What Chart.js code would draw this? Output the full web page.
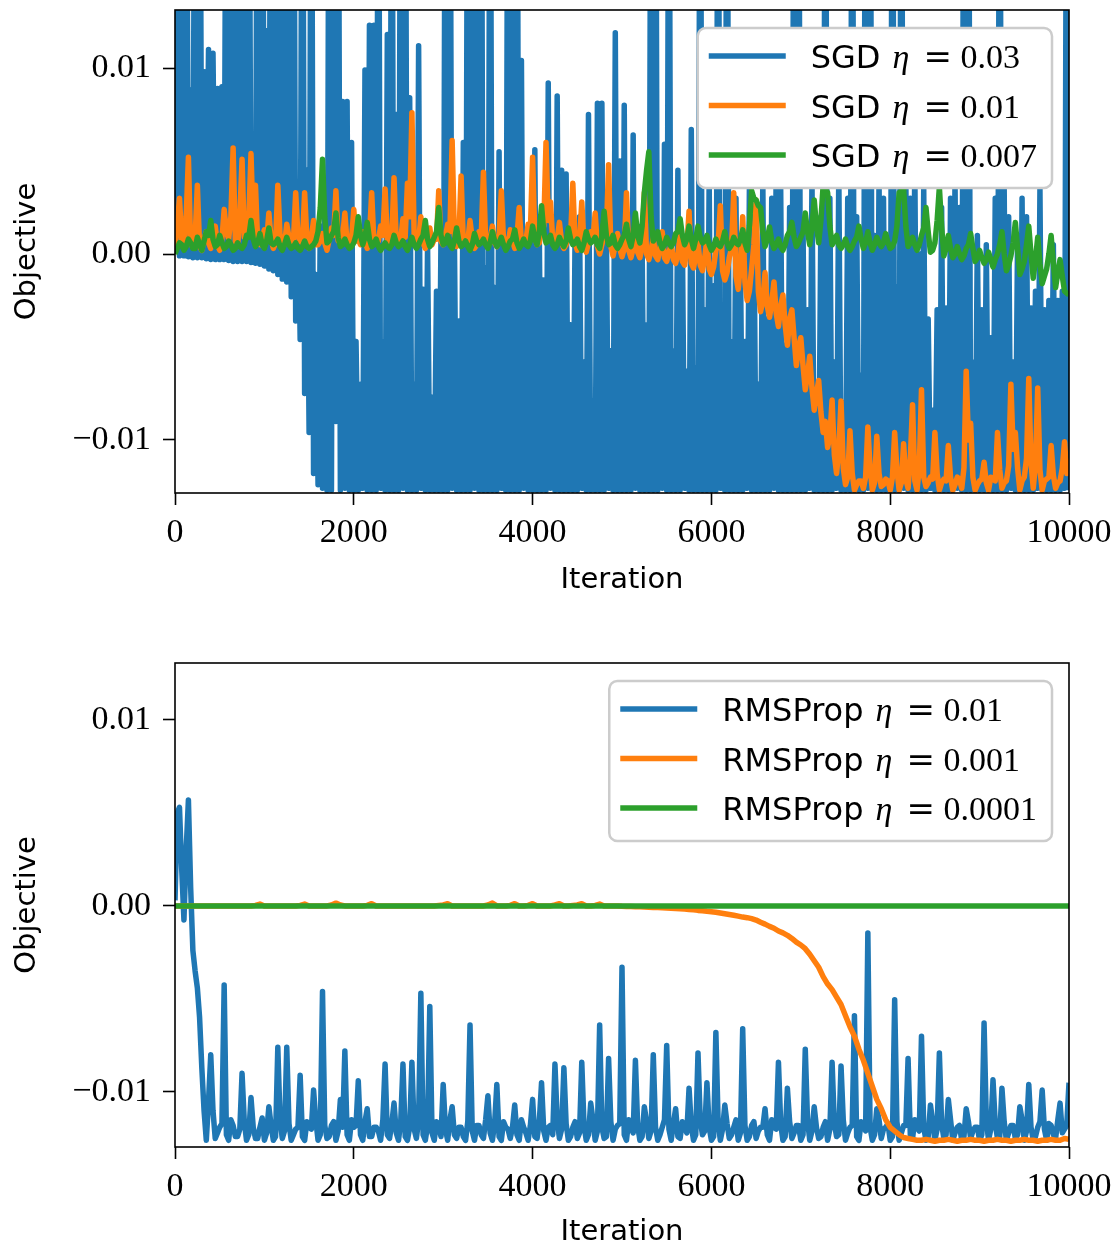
<!DOCTYPE html>
<html>
<head>
<meta charset="utf-8">
<script src="https://cdn.jsdelivr.net/npm/chart.js@4/dist/chart.umd.min.js"></script>
<style>
  html, body { margin: 0; padding: 0; background: #fff; }
  #wrap { position: relative; width: 1119px; height: 1250px; }
  canvas { position: absolute; left: 0; }
  #topChart { top: 0; }
  #bottomChart { top: 620px; }
</style>
</head>
<body>
<div id="wrap">
  <canvas id="topChart" width="1119" height="620"></canvas>
  <canvas id="bottomChart" width="1119" height="630"></canvas>
</div>
<script>
// === data (objective values in units of 1e-3) ===
const iterations = [
  0, 50, 100, 150, 200, 250, 300, 350, 400, 450,
  500, 550, 600, 650, 700, 750, 800, 850, 900, 950,
  1000, 1050, 1100, 1150, 1200, 1250, 1300, 1350, 1400, 1450,
  1500, 1550, 1600, 1650, 1700, 1750, 1800, 1850, 1900, 1950,
  2000, 2050, 2100, 2150, 2200, 2250, 2300, 2350, 2400, 2450,
  2500, 2550, 2600, 2650, 2700, 2750, 2800, 2850, 2900, 2950,
  3000, 3050, 3100, 3150, 3200, 3250, 3300, 3350, 3400, 3450,
  3500, 3550, 3600, 3650, 3700, 3750, 3800, 3850, 3900, 3950,
  4000, 4050, 4100, 4150, 4200, 4250, 4300, 4350, 4400, 4450,
  4500, 4550, 4600, 4650, 4700, 4750, 4800, 4850, 4900, 4950,
  5000, 5050, 5100, 5150, 5200, 5250, 5300, 5350, 5400, 5450,
  5500, 5550, 5600, 5650, 5700, 5750, 5800, 5850, 5900, 5950,
  6000, 6050, 6100, 6150, 6200, 6250, 6300, 6350, 6400, 6450,
  6500, 6550, 6600, 6650, 6700, 6750, 6800, 6850, 6900, 6950,
  7000, 7050, 7100, 7150, 7200, 7250, 7300, 7350, 7400, 7450,
  7500, 7550, 7600, 7650, 7700, 7750, 7800, 7850, 7900, 7950,
  8000, 8050, 8100, 8150, 8200, 8250, 8300, 8350, 8400, 8450,
  8500, 8550, 8600, 8650, 8700, 8750, 8800, 8850, 8900, 8950,
  9000, 9050, 9100, 9150, 9200, 9250, 9300, 9350, 9400, 9450,
  9500, 9550, 9600, 9650, 9700, 9750, 9800, 9850, 9900, 9950,
  10000
];

// in-between samples (25, 75, ...) used to thicken the noisy bands
const iterationsMid = [
  25, 75, 125, 175, 225, 275, 325, 375, 425, 475,
  525, 575, 625, 675, 725, 775, 825, 875, 925, 975,
  1025, 1075, 1125, 1175, 1225, 1275, 1325, 1375, 1425, 1475,
  1525, 1575, 1625, 1675, 1725, 1775, 1825, 1875, 1925, 1975,
  2025, 2075, 2125, 2175, 2225, 2275, 2325, 2375, 2425, 2475,
  2525, 2575, 2625, 2675, 2725, 2775, 2825, 2875, 2925, 2975,
  3025, 3075, 3125, 3175, 3225, 3275, 3325, 3375, 3425, 3475,
  3525, 3575, 3625, 3675, 3725, 3775, 3825, 3875, 3925, 3975,
  4025, 4075, 4125, 4175, 4225, 4275, 4325, 4375, 4425, 4475,
  4525, 4575, 4625, 4675, 4725, 4775, 4825, 4875, 4925, 4975,
  5025, 5075, 5125, 5175, 5225, 5275, 5325, 5375, 5425, 5475,
  5525, 5575, 5625, 5675, 5725, 5775, 5825, 5875, 5925, 5975,
  6025, 6075, 6125, 6175, 6225, 6275, 6325, 6375, 6425, 6475,
  6525, 6575, 6625, 6675, 6725, 6775, 6825, 6875, 6925, 6975,
  7025, 7075, 7125, 7175, 7225, 7275, 7325, 7375, 7425, 7475,
  7525, 7575, 7625, 7675, 7725, 7775, 7825, 7875, 7925, 7975,
  8025, 8075, 8125, 8175, 8225, 8275, 8325, 8375, 8425, 8475,
  8525, 8575, 8625, 8675, 8725, 8775, 8825, 8875, 8925, 8975,
  9025, 9075, 9125, 9175, 9225, 9275, 9325, 9375, 9425, 9475,
  9525, 9575, 9625, 9675, 9725, 9775, 9825, 9875, 9925, 9975
];

// finer grid for the fast-oscillating SGD eta = 0.03 run
const iterationsFine = [
  0, 25, 50, 75, 100, 125, 150, 175, 200, 225, 250, 275, 300, 325, 350, 375, 400, 425, 450, 475,
  500, 525, 550, 575, 600, 625, 650, 675, 700, 725, 750, 775, 800, 825, 850, 875, 900, 925, 950, 975,
  1000, 1025, 1050, 1075, 1100, 1125, 1150, 1175, 1200, 1225, 1250, 1275, 1300, 1325, 1350, 1375, 1400, 1425, 1450, 1475,
  1500, 1525, 1550, 1575, 1600, 1625, 1650, 1675, 1700, 1725, 1750, 1775, 1800, 1825, 1850, 1875, 1900, 1925, 1950, 1975,
  2000, 2025, 2050, 2075, 2100, 2125, 2150, 2175, 2200, 2225, 2250, 2275, 2300, 2325, 2350, 2375, 2400, 2425, 2450, 2475,
  2500, 2525, 2550, 2575, 2600, 2625, 2650, 2675, 2700, 2725, 2750, 2775, 2800, 2825, 2850, 2875, 2900, 2925, 2950, 2975,
  3000, 3025, 3050, 3075, 3100, 3125, 3150, 3175, 3200, 3225, 3250, 3275, 3300, 3325, 3350, 3375, 3400, 3425, 3450, 3475,
  3500, 3525, 3550, 3575, 3600, 3625, 3650, 3675, 3700, 3725, 3750, 3775, 3800, 3825, 3850, 3875, 3900, 3925, 3950, 3975,
  4000, 4025, 4050, 4075, 4100, 4125, 4150, 4175, 4200, 4225, 4250, 4275, 4300, 4325, 4350, 4375, 4400, 4425, 4450, 4475,
  4500, 4525, 4550, 4575, 4600, 4625, 4650, 4675, 4700, 4725, 4750, 4775, 4800, 4825, 4850, 4875, 4900, 4925, 4950, 4975,
  5000, 5025, 5050, 5075, 5100, 5125, 5150, 5175, 5200, 5225, 5250, 5275, 5300, 5325, 5350, 5375, 5400, 5425, 5450, 5475,
  5500, 5525, 5550, 5575, 5600, 5625, 5650, 5675, 5700, 5725, 5750, 5775, 5800, 5825, 5850, 5875, 5900, 5925, 5950, 5975,
  6000, 6025, 6050, 6075, 6100, 6125, 6150, 6175, 6200, 6225, 6250, 6275, 6300, 6325, 6350, 6375, 6400, 6425, 6450, 6475,
  6500, 6525, 6550, 6575, 6600, 6625, 6650, 6675, 6700, 6725, 6750, 6775, 6800, 6825, 6850, 6875, 6900, 6925, 6950, 6975,
  7000, 7025, 7050, 7075, 7100, 7125, 7150, 7175, 7200, 7225, 7250, 7275, 7300, 7325, 7350, 7375, 7400, 7425, 7450, 7475,
  7500, 7525, 7550, 7575, 7600, 7625, 7650, 7675, 7700, 7725, 7750, 7775, 7800, 7825, 7850, 7875, 7900, 7925, 7950, 7975,
  8000, 8025, 8050, 8075, 8100, 8125, 8150, 8175, 8200, 8225, 8250, 8275, 8300, 8325, 8350, 8375, 8400, 8425, 8450, 8475,
  8500, 8525, 8550, 8575, 8600, 8625, 8650, 8675, 8700, 8725, 8750, 8775, 8800, 8825, 8850, 8875, 8900, 8925, 8950, 8975,
  9000, 9025, 9050, 9075, 9100, 9125, 9150, 9175, 9200, 9225, 9250, 9275, 9300, 9325, 9350, 9375, 9400, 9425, 9450, 9475,
  9500, 9525, 9550, 9575, 9600, 9625, 9650, 9675, 9700, 9725, 9750, 9775, 9800, 9825, 9850, 9875, 9900, 9925, 9950, 9975,
  10000
];

// SGD eta = 0.03 on iterationsFine (values of 30 are off the top of the axis)
const sgd003 = [
  0.0, 30, -0.1, 30, -0.1, 30, -0.15, 8.8, -0.2, 30, -0.2, 30, -0.2, 9.8, -0.25, 11.0, -0.3, 10.8, -0.3, 8.9,
  -0.3, 9.0, -0.3, 30, -0.35, 30, -0.4, 30, -0.4, 30, -0.4, 30, -0.4, 30, -0.45, 5.5, -0.5, 30, -0.55, 30,
  -0.65, 12.0, -0.8, 30, -0.9, 30, -1.1, 30, -1.35, 30, -1.5, 30, -2.3, 30, -3.6, 3.9, -4.6, 30, -7.5, 4.5,
  -9.6, 30, -11.8, -1.1, -12.4, 1.5, -12.6, 3.0, -12.7, 30, -12.7, 30, -9.0, 30, -12.7, 8.2, -12.6, 8.2, -12.7, 6.0,
  -12.7, -4.7, -12.7, -7.0, -12.6, 9.9, -12.7, 12.3, -12.7, 12.3, -12.7, 30, -12.6, -4.7, -12.7, 11.8, -12.7, 30, -12.7, 7.5,
  -12.7, 30, -12.6, 30, -12.7, 8.4, -12.7, -7.0, -12.7, 11.2, -12.6, -1.9, -12.7, 0.5, -12.7, -7.7, -12.7, -2.0, -12.7, 0.8,
  -12.7, 30, -12.7, 30, -12.6, 1.0, -12.7, -3.6, -12.7, 6.0, -12.7, 30, -12.7, 30, -12.6, 30, -12.7, 30, -12.7, -0.75,
  -12.7, 30, -12.7, -1.8, -12.7, 5.5, -12.6, 0.8, -12.7, 30, -12.7, 30, -12.7, 30, -12.7, 10.4, -12.6, 1.0, -12.7, 1.5,
  -12.7, 5.6, -12.7, 1.0, -12.7, -1.4, -12.7, 9.2, -12.6, 2.0, -12.7, 8.5, -12.7, 4.5, -12.7, 4.3, -12.7, -3.8, -12.7, 1.0,
  -12.7, 2.0, -12.6, -5.8, -12.7, 7.5, -12.7, -7.9, -12.7, 8.1, -12.7, 8.1, -12.7, 1.5, -12.6, -5.2, -12.7, 11.9, -12.7, 5.0,
  -12.7, 8.0, -12.7, 2.0, -12.7, 6.4, -12.6, 1.5, -12.7, 0.5, -12.7, -3.8, -12.7, 30, -12.7, 30, -12.7, 1.0, -12.6, 5.9,
  -12.7, 30, -12.7, -5.2, -12.7, 4.5, -12.7, 1.0, -12.6, -6.3, -12.7, 6.7, -12.7, -6.1, -12.7, 30, -12.7, -3.0, -12.7, 4.0,
  -12.7, -1.7, -12.7, 30, -12.6, -5.5, -12.7, 30, -12.7, -4.7, -12.7, 3.0, -12.7, -0.5, -12.7, -4.7, -12.6, 3.5, -12.7, 2.0,
  -12.7, -7.0, -12.7, 4.0, -12.7, -3.5, -12.7, 3.0, -12.6, 5.0, -12.7, 3.5, -12.7, -4.9, -12.7, 2.5, -12.7, 30, -12.7, 30,
  -12.7, 1.5, -12.7, -3.0, -12.6, 4.0, -12.7, -7.5, -12.7, 2.0, -12.7, 30, -12.7, 3.0, -12.7, -5.8, -12.6, 4.5, -12.7, -8.0,
  -12.7, 3.0, -12.7, 30, -12.7, 2.0, -12.7, -6.5, -12.7, 30, -12.6, 30, -12.7, 1.0, -12.7, 4.0, -12.7, 3.0, -12.7, 0.5,
  -12.7, 30, -12.7, -1.8, -12.7, 30, -12.6, 4.0, -12.7, 3.0, -12.7, 5.0, -12.7, 0.0, -12.7, 3.5, -12.7, -3.5, -12.6, -8.4,
  -12.7, -3.0, -12.7, 2.5, -12.7, -2.9, -12.7, 3.0, -12.7, 4.0, -12.6, 2.5, -12.7, 30, -12.7, 30, -12.7, -5.8, -12.7, 1.0,
  -12.7, -3.0, -12.7, 0.5, -12.6, -4.5, -12.7, 3.0, -12.7, 30, -12.7, 3.5, -12.7, 2.0, -12.6, -5.8, -12.7, 1.0, -12.7, 3.0,
  -12.7, 2.0, -12.7, -2.9, -12.7, -2.0, -12.6, 3.5, -12.7, -3.0, -12.7, -2.5, -12.7, 0.5, -12.7, -2.5, -12.7, -2.0, -12.6, 30,
  -12.7
];

// SGD eta = 0.01 (on iterations, plus in-between samples on iterationsMid)
const sgd001 = [
  0.3, 3.0, 0.4, 5.2, 0.6, 3.7, 0.2, 1.2, 0.3, 1.5,
  0.2, 2.4, 0.8, 5.7, 0.4, 5.1, 1.0, 5.4, 3.7, 0.5,
  1.3, 2.2, 0.3, 3.7, 0.9, 1.6, 0.4, 3.3, 0.7, 3.3,
  0.3, 1.8, 0.5, 1.1, 0.2, 1.4, 3.4, 0.6, 2.2, 0.4,
  2.4, 0.8, 1.2, 0.3, 3.3, 0.9, 1.5, 3.5, 0.5, 4.1,
  0.7, 1.9, 3.8, 7.6, 0.6, 2.0, 0.3, 1.4, 0.8, 3.4,
  0.5, 1.6, 6.1, 0.4, 4.2, 0.9, 1.8, 0.3, 1.2, 4.4,
  0.6, 1.5, 0.4, 3.4, 0.8, 1.3, 0.3, 2.5, 0.6, 1.6,
  5.2, 0.5, 1.4, 6.0, 2.8, 0.4, 1.7, 0.3, 1.0, 3.8,
  0.2, 2.8, 0.1, 1.2, 2.2, 0.0, 1.0, 4.8, -0.1, 1.1,
  -0.15, 3.3, -0.2, 0.8, -0.2, 3.3, -0.3, 0.9, -0.3, 1.2,
  -0.4, 0.5, -0.5, 1.0, -0.6, 2.3, -0.75, 0.6, -0.9, 0.8,
  -1.1, 0.2, 2.6, -1.4, -0.2, 3.3, -1.9, 2.0, -2.5, -0.8,
  2.9, -3.1, -1.0, -3.4, -1.5, -3.9, -2.2, -4.9, -3.0, -6.0,
  -4.5, -7.3, -5.5, -8.4, -6.8, -9.6, -10.4, -7.85, -11.8, -7.9,
  -12.4, -9.5, -12.7, -12.2, -12.6, -9.3, -12.7, -9.8, -12.5, -12.1,
  -12.7, -9.6, -12.7, -10.2, -12.6, -8.1, -12.7, -7.3, -12.5, -12.0,
  -9.6, -12.7, -12.1, -10.3, -12.7, -12.0, -12.6, -6.3, -9.1, -12.7,
  -12.2, -11.2, -12.7, -12.1, -9.6, -12.6, -12.2, -7.0, -9.6, -12.7,
  -12.0, -6.7, -12.6, -7.2, -12.7, -12.1, -10.3, -12.6, -12.2, -10.1,
  -11.0
];
const sgd001Mid = [
  1.5, 0.8, 2.0, 0.5, 0.9, 0.4, 0.8, 0.6, 0.9, 0.5,
  0.8, 1.2, 2.0, 0.7, 2.0, 0.9, 1.8, 1.5, 0.6, 0.9,
  0.7, 0.8, 0.6, 1.0, 0.5, 0.9, 0.7, 1.0, 0.6, 0.8,
  0.9, 0.5, 0.7, 0.6, 0.8, 1.0, 0.7, 0.9, 0.6, 0.8,
  0.7, 0.5, 0.8, 0.9, 0.6, 0.7, 1.0, 0.8, 0.9, 0.6,
  0.8, 0.9, 2.0, 1.0, 0.7, 0.6, 0.9, 0.5, 0.8, 0.7,
  0.9, 1.2, 1.0, 0.8, 0.6, 0.7, 0.8, 0.5, 0.9, 0.7,
  0.8, 0.6, 0.9, 0.7, 0.5, 0.8, 0.9, 0.6, 0.7, 1.2,
  0.9, 0.6, 1.5, 1.8, 0.7, 0.8, 0.6, 0.5, 0.9, 0.6,
  0.7, 0.5, 0.6, 0.8, 0.4, 0.5, 1.2, 0.4, 0.5, 0.3,
  0.3, 0.2, 0.3, 0.1, 0.4, 0.0, 0.2, -0.1, 0.3, -0.2,
  0.1, -0.3, 0.0, -0.4, 0.3, -0.5, -0.1, -0.6, -0.2, -0.8,
  -0.7, 0.5, -0.9, -1.0, 0.3, -1.2, -0.5, -1.5, -2.0, 0.5,
  -2.0, -2.5, -2.8, -2.6, -3.2, -2.8, -3.8, -3.5, -4.5, -5.0,
  -6.0, -6.5, -7.2, -7.5, -8.5, -9.0, -9.8, -10.8, -10.5, -11.5,
  -12.0, -11.8, -12.4, -12.2, -12.0, -11.5, -12.3, -11.8, -12.4, -12.2,
  -12.0, -11.6, -12.3, -12.1, -11.0, -12.2, -11.5, -12.0, -12.3, -12.1,
  -11.8, -12.3, -12.2, -12.0, -12.4, -12.1, -11.5, -10.0, -12.0, -12.4,
  -12.1, -12.3, -12.0, -12.2, -11.6, -12.3, -11.4, -10.5, -11.5, -12.2,
  -11.0, -11.2, -11.3, -11.6, -12.2, -12.0, -11.9, -12.3, -11.5, -11.8
];

// SGD eta = 0.007
const sgd0007 = [
  0.0, 0.6, 0.2, 0.8, 0.3, 0.9, 0.2, 1.2, 1.8, 0.4,
  1.0, 0.3, 0.7, 0.2, 0.6, 0.3, 1.0, 1.8, 0.4, 1.1,
  0.3, 1.4, 0.5, 0.8, 0.2, 0.9, 0.3, 0.6, 0.2, 0.7,
  0.3, 0.5, 1.2, 5.1, 0.6, 1.0, 2.2, 0.4, 0.8, 0.3,
  0.6, 2.0, 0.5, 1.7, 0.4, 0.8, 0.2, 0.6, 0.3, 1.0,
  0.4, 0.7, 0.2, 0.9, 0.3, 0.8, 1.8, 0.4, 0.9, 2.5,
  0.5, 1.0, 0.3, 1.4, 0.4, 0.7, 0.2, 1.1, 0.5, 0.8,
  0.3, 1.2, 0.4, 0.9, 0.2, 0.7, 1.3, 0.3, 0.8, 0.4,
  1.5, 0.5, 2.6, 0.6, 1.0, 0.3, 0.9, 0.4, 1.4, 0.5,
  0.8, 0.2, 1.2, 0.6, 0.9, 0.3, 2.3, 0.5, 1.0, 0.3,
  0.8, 1.6, 0.4, 2.2, 0.6, 3.3, 5.5, 0.7, 1.2, 0.3,
  0.9, 0.4, 1.1, 1.9, 0.5, 1.5, 0.3, 1.5, 0.6, 1.0,
  0.2, 0.8, 0.4, 1.2, 0.3, 0.9, 0.5, 1.3, 0.2, 3.4,
  2.9, 2.5, 0.4, 1.45, 0.3, 0.8, 0.2, 1.0, 1.7, 0.4,
  0.9, 2.2, 0.5, 2.9, 0.6, 3.7, 3.3, 0.5, 1.0, 0.3,
  0.8, 0.2, 0.7, 1.5, 0.3, 1.2, 0.2, 0.9, 0.4, 1.1,
  0.3, 0.7, 3.3, 3.5, 0.4, 0.9, 0.2, 1.0, 2.5, 0.1,
  0.6, 3.6, -0.1, 1.0, -0.2, 0.4, -0.3, 0.3, 1.1, -0.4,
  0.2, -0.5, 0.1, -0.7, 0.0, 1.2, -0.9, -0.1, 1.7, -1.1,
  -0.4, 1.5, -1.3, 0.9, -1.6, -0.8, 1.0, -1.8, -0.3, -2.0,
  -2.2
];
const sgd0007Mid = [
  0.3, 0.5, 0.4, 0.6, 0.3, 0.5, 0.7, 1.0, 0.8, 0.5,
  0.6, 0.4, 0.5, 0.3, 0.4, 0.5, 0.9, 0.8, 0.6, 0.5,
  0.7, 0.6, 0.6, 0.4, 0.5, 0.5, 0.4, 0.3, 0.4, 0.4,
  0.4, 0.7, 2.5, 2.0, 0.7, 1.2, 0.9, 0.5, 0.5, 0.4,
  1.0, 1.0, 0.9, 0.8, 0.5, 0.4, 0.4, 0.4, 0.5, 0.6,
  0.5, 0.4, 0.5, 0.5, 0.5, 1.0, 0.8, 0.6, 1.2, 1.0,
  0.6, 0.5, 0.7, 0.7, 0.5, 0.4, 0.5, 0.7, 0.6, 0.5,
  0.6, 0.7, 0.6, 0.5, 0.4, 0.8, 0.6, 0.5, 0.5, 0.7,
  0.8, 1.2, 1.2, 0.7, 0.5, 0.5, 0.6, 0.7, 0.8, 0.6,
  0.4, 0.6, 0.8, 0.7, 0.5, 1.0, 1.0, 0.6, 0.5, 0.5,
  1.0, 0.8, 1.0, 1.0, 1.5, 4.5, 2.0, 0.9, 0.6, 0.5,
  0.6, 0.6, 1.2, 1.0, 0.8, 0.8, 0.8, 0.9, 0.7, 0.5,
  0.4, 0.5, 0.7, 0.6, 0.5, 0.6, 0.8, 0.6, 1.5, 3.0,
  2.6, 1.2, 0.8, 0.7, 0.5, 0.4, 0.5, 1.2, 0.9, 0.6,
  1.2, 1.2, 1.5, 1.5, 1.8, 3.5, 1.5, 0.7, 0.5, 0.5,
  0.4, 0.4, 0.9, 0.8, 0.6, 0.6, 0.5, 0.6, 0.6, 0.6,
  0.4, 1.5, 3.4, 1.5, 0.6, 0.5, 0.5, 1.4, 1.2, 0.2,
  1.8, 1.5, 0.3, 0.3, 0.0, 0.0, -0.1, 0.5, 0.3, -0.2,
  -0.2, -0.3, -0.3, -0.3, 0.5, 0.0, -0.6, 0.6, 0.3, -0.8,
  0.5, 0.0, -0.3, -0.5, -1.2, 0.0, -0.5, -1.0, -1.2, -2.1
];

// RMSProp eta = 0.01
const rms001 = [
  0.3, 5.3, -0.75, 5.7, -2.4, -4.4, -8.7, -12.6, -8.0, -12.5,
  -11.9, -4.25, -12.6, -11.8, -12.4, -9.0, -12.6, -10.3, -12.5, -11.9,
  -12.6, -10.8, -12.6, -7.6, -12.5, -7.6, -12.6, -12.0, -9.1, -12.6,
  -11.9, -9.9, -12.6, -4.6, -12.5, -11.8, -12.6, -10.4, -7.8, -12.6,
  -11.9, -9.4, -12.6, -10.9, -12.4, -11.9, -12.6, -8.5, -12.5, -10.6,
  -12.6, -8.5, -12.6, -8.4, -12.5, -4.7, -12.6, -5.4, -12.6, -11.8,
  -9.6, -12.6, -10.8, -12.5, -11.9, -12.6, -6.4, -12.6, -11.8, -12.5,
  -10.2, -12.6, -9.6, -12.6, -11.9, -12.5, -10.7, -12.6, -11.9, -12.6,
  -10.4, -12.5, -9.5, -12.6, -11.8, -8.5, -12.5, -8.7, -12.6, -11.9,
  -12.5, -8.4, -12.6, -10.6, -12.6, -6.4, -12.5, -8.2, -12.6, -11.8,
  -3.3, -12.6, -11.9, -8.3, -12.6, -10.8, -12.5, -8.0, -12.6, -11.9,
  -7.5, -12.6, -10.9, -12.5, -11.9, -9.8, -12.6, -7.9, -12.3, -9.5,
  -12.6, -6.8, -12.6, -10.7, -12.5, -11.9, -12.6, -6.6, -12.6, -11.8,
  -12.5, -11.9, -10.9, -12.6, -11.9, -8.4, -12.6, -9.8, -12.5, -11.8,
  -12.6, -7.7, -12.6, -10.8, -12.5, -11.9, -12.6, -8.4, -12.4, -8.6,
  -12.6, -11.9, -5.9, -12.6, -11.8, -1.45, -12.6, -10.9, -12.5, -11.9,
  -12.6, -5.05, -12.6, -11.8, -8.2, -12.5, -11.9, -7.0, -12.6, -10.7,
  -12.6, -7.9, -12.5, -10.4, -12.6, -11.9, -12.6, -10.9, -12.5, -11.9,
  -12.6, -6.3, -12.6, -9.35, -12.5, -9.8, -12.6, -11.8, -12.5, -10.8,
  -12.6, -9.6, -12.6, -11.9, -9.9, -12.6, -11.8, -12.5, -10.6, -12.0,
  -9.5
];
const rms001Mid = [
  5.0, 2.0, 3.0, 1.0, -3.5, -6.0, -11.0, -10.5, -11.0, -12.2,
  -11.7, -12.3, -11.5, -12.4, -12.0, -11.6, -12.3, -11.9, -12.5, -11.4,
  -12.2, -11.8, -12.4, -11.5, -12.1, -11.7, -12.3, -11.9, -12.4, -11.6,
  -12.0, -11.5, -12.3, -11.8, -12.4, -11.6, -12.1, -11.9, -12.3, -11.5,
  -11.8, -12.3, -11.6, -12.4, -11.9, -12.1, -11.5, -12.3, -11.7, -12.2,
  -11.6, -12.4, -11.9, -12.0, -11.5, -12.3, -11.8, -12.2, -11.6, -12.4,
  -12.0, -11.5, -12.3, -11.9, -12.4, -11.6, -12.1, -11.8, -12.3, -11.5,
  -12.2, -11.7, -12.4, -11.6, -12.0, -11.9, -12.3, -11.5, -12.2, -11.8,
  -12.4, -11.6, -12.1, -11.9, -12.3, -11.5, -12.0, -11.7, -12.4, -11.6,
  -12.2, -11.8, -12.3, -11.5, -12.1, -11.9, -12.4, -11.6, -12.0, -11.7,
  -12.3, -11.5, -12.2, -11.8, -12.4, -11.6, -12.1, -11.9, -12.3, -11.5,
  -12.0, -11.7, -12.4, -11.6, -12.2, -11.8, -12.3, -11.5, -12.1, -11.9,
  -12.4, -11.6, -12.0, -11.7, -12.3, -11.5, -12.2, -11.8, -12.4, -11.6,
  -12.1, -11.9, -12.3, -11.5, -12.0, -11.7, -12.4, -11.6, -12.2, -11.8,
  -12.3, -11.5, -12.1, -11.9, -12.4, -11.6, -12.0, -11.7, -12.3, -11.5,
  -12.2, -11.8, -12.4, -11.6, -12.1, -11.9, -12.3, -11.5, -12.0, -11.7,
  -12.4, -11.6, -12.2, -11.8, -12.3, -11.5, -12.1, -11.9, -12.4, -11.6,
  -12.0, -11.7, -12.3, -11.5, -12.2, -11.8, -12.4, -11.6, -12.1, -11.9,
  -12.3, -11.5, -12.0, -11.7, -12.4, -11.6, -12.2, -11.8, -12.3, -11.5,
  -12.1, -11.9, -12.4, -11.6, -12.0, -11.7, -12.3, -11.5, -12.2, -11.8
];

// RMSProp eta = 0.001
const rms0001 = [
  0, 0, 0, 0, 0, 0, 0, 0, 0, 0,
  0, 0, 0, 0, 0, 0, 0, 0, 0.03, 0.1,
  0, 0, 0, 0, 0, 0, 0, 0, 0.03, 0.1,
  0, 0, 0, 0, 0, 0.05, 0.15, 0.05, 0, 0,
  0, 0, 0, 0.03, 0.12, 0, 0, 0, 0, 0,
  0, 0, 0, 0, 0, 0, 0, 0, 0, 0.03,
  0.05, 0.12, 0, 0, 0, 0, 0, 0, 0, 0,
  0.05, 0.15, 0, 0, 0, 0.03, 0.12, 0, 0, 0.03,
  0.12, 0, 0, 0, 0, 0.05, 0.12, 0, 0, 0.03,
  0.05, 0.12, 0, 0, 0.03, 0.1, 0, 0, 0, 0,
  -0.02, -0.03, -0.03, -0.04, -0.05, -0.06, -0.07, -0.08, -0.09, -0.1,
  -0.11, -0.12, -0.14, -0.15, -0.17, -0.19, -0.21, -0.24, -0.26, -0.29,
  -0.31, -0.34, -0.38, -0.42, -0.46, -0.5, -0.55, -0.6, -0.63, -0.68,
  -0.76, -0.88, -0.98, -1.1, -1.2, -1.35, -1.45, -1.58, -1.75, -1.95,
  -2.1, -2.3, -2.6, -2.95, -3.3, -3.8, -4.2, -4.5, -4.9, -5.3,
  -5.9, -6.5, -7.0, -7.7, -8.3, -9.0, -9.7, -10.4, -10.9, -11.5,
  -11.9, -12.1, -12.3, -12.45, -12.5, -12.55, -12.6, -12.6, -12.55, -12.6,
  -12.65, -12.6, -12.6, -12.55, -12.6, -12.65, -12.6, -12.6, -12.55, -12.6,
  -12.6, -12.65, -12.6, -12.6, -12.55, -12.6, -12.6, -12.65, -12.6, -12.6,
  -12.55, -12.6, -12.6, -12.65, -12.6, -12.6, -12.55, -12.6, -12.6, -12.5,
  -12.55
];

// RMSProp eta = 0.0001 (flat at zero)
const rms00001Iter = [0, 2500, 5000, 7500, 10000];
const rms00001 = [0, 0, 0, 0, 0];

// labels and ticks
const sgdNames = ['SGD', 'SGD', 'SGD'];
const sgdRates = ['0.03', '0.01', '0.007'];
const rmsNames = ['RMSProp', 'RMSProp', 'RMSProp'];
const rmsRates = ['0.01', '0.001', '0.0001'];
const seriesColors = ['#1f77b4', '#ff7f0e', '#2ca02c'];
const xTickValues = [0, 2000, 4000, 6000, 8000, 10000];
const xTickLabels = ['0', '2000', '4000', '6000', '8000', '10000'];
const yTickValues = [-0.01, 0, 0.01];
const yTickLabels = ['\u22120.01', '0.00', '0.01'];

const LINE_W = 5.5;

// === helpers ===
const toPoints = (xs, ys) => ys.map((v, i) => ({ x: xs[i], y: v / 1000 }));
// join the main samples and the in-between samples, ordered by iteration
const mergePoints = (xsA, ysA, xsB, ysB) =>
  toPoints(xsA, ysA).concat(toPoints(xsB, ysB)).sort((p, q) => p.x - q.x);

function lineSet(points, color, order) {
  return {
    data: points,
    borderColor: color,
    borderWidth: LINE_W,
    pointRadius: 0,
    fill: false,
    tension: 0,
    borderJoinStyle: 'round',
    order: order
  };
}

// frame around the plot area
const framePlugin = {
  id: 'frame',
  afterDatasetsDraw(chart) {
    const { ctx, chartArea: a } = chart;
    ctx.save();
    ctx.strokeStyle = '#000';
    ctx.lineWidth = 1.6;
    ctx.strokeRect(a.left, a.top, a.right - a.left, a.bottom - a.top);
    ctx.restore();
  }
};

// legend with italic eta, drawn inside the plot area
const etaLegend = {
  id: 'etaLegend',
  afterDraw(chart, args, opts) {
    const { ctx, chartArea: a } = chart;
    const items = opts.items || [];
    const nameFont = '32px "DejaVu Sans"';
    const etaFont = 'italic 34px "Liberation Serif"';
    const eqFont = '34px "DejaVu Serif"';
    const numFont = '34px "Liberation Serif"';
    ctx.save();
    let textW = 0;
    const nameW = items.map(it => {
      ctx.font = nameFont;
      const wn = ctx.measureText(it.name).width;
      ctx.font = numFont;
      textW = Math.max(textW, wn + 80 + ctx.measureText(it.rate).width);
      return wn;
    });
    const w = 11 + 77 + 25 + textW + 15, h = 160, r = 8;
    const right = a.right - 17, top = a.top + opts.offsetTop, left = right - w;
    ctx.beginPath();
    ctx.moveTo(left + r, top);
    ctx.arcTo(right, top, right, top + h, r);
    ctx.arcTo(right, top + h, left, top + h, r);
    ctx.arcTo(left, top + h, left, top, r);
    ctx.arcTo(left, top, right, top, r);
    ctx.closePath();
    ctx.fillStyle = '#fff';
    ctx.fill();
    ctx.lineWidth = 2.5;
    ctx.strokeStyle = '#cccccc';
    ctx.stroke();
    items.forEach((it, i) => {
      const y = top + 28 + i * 49.5;
      ctx.beginPath();
      ctx.moveTo(left + 11, y);
      ctx.lineTo(left + 88, y);
      ctx.lineWidth = LINE_W;
      ctx.strokeStyle = it.color;
      ctx.stroke();
      const x0 = left + 113, yb = y + 12;
      ctx.fillStyle = '#000';
      ctx.textAlign = 'left';
      ctx.textBaseline = 'alphabetic';
      ctx.font = nameFont; ctx.fillText(it.name, x0, yb);
      ctx.font = etaFont;  ctx.fillText('\u03b7', x0 + nameW[i] + 12, yb);
      ctx.font = eqFont;   ctx.fillText('=', x0 + nameW[i] + 43, yb);
      ctx.font = numFont;  ctx.fillText(it.rate, x0 + nameW[i] + 80, yb);
    });
    ctx.restore();
  }
};

function makeChart(id, datasets, cfg) {
  const tickFont = { family: 'Liberation Serif', size: 34 };
  const titleFont = { family: 'DejaVu Sans', size: 29 };
  const grid = { drawOnChartArea: false, drawTicks: true, tickLength: 12, tickWidth: 1.6, tickColor: '#000' };
  return new Chart(document.getElementById(id), {
    type: 'line',
    data: { datasets },
    options: {
      responsive: false,
      animation: false,
      events: [],
      layout: { padding: { top: cfg.padTop, right: 50, left: 0, bottom: 0 } },
      elements: { line: { borderWidth: LINE_W } },
      plugins: {
        legend: { display: false },
        tooltip: { enabled: false },
        etaLegend: { items: cfg.legend, offsetTop: 18 }
      },
      scales: {
        x: {
          type: 'linear', min: 0, max: 10000,
          afterBuildTicks: s => { s.ticks = xTickValues.map(v => ({ value: v })); },
          afterFit: s => { s.height = cfg.xHeight; s.paddingLeft = 0; s.paddingRight = 0; },
          ticks: { autoSkip: false, maxRotation: 0, font: tickFont, color: '#000', padding: 8,
                   callback: (v, i) => xTickLabels[i] },
          grid: grid,
          border: { display: false },
          title: { display: true, text: 'Iteration', font: titleFont, color: '#000',
                   padding: { top: 0, bottom: cfg.xTitlePad } }
        },
        y: {
          type: 'linear', min: cfg.yMin, max: cfg.yMax,
          afterBuildTicks: s => { s.ticks = yTickValues.map(v => ({ value: v })); },
          afterFit: s => { s.width = 175; s.paddingTop = 0; s.paddingBottom = 0; },
          ticks: { font: tickFont, color: '#000', padding: 12,
                   callback: (v, i) => yTickLabels[i] },
          grid: grid,
          border: { display: false },
          title: { display: true, text: 'Objective', font: titleFont, color: '#000',
                   padding: { top: 9.6, bottom: 0 } }
        }
      }
    },
    plugins: [framePlugin, etaLegend]
  });
}

// === top: SGD ===
makeChart('topChart', [
  lineSet(toPoints(iterationsFine, sgd003), seriesColors[0], 3),
  lineSet(mergePoints(iterations, sgd001, iterationsMid, sgd001Mid), seriesColors[1], 2),
  lineSet(mergePoints(iterations, sgd0007, iterationsMid, sgd0007Mid), seriesColors[2], 1)
], {
  padTop: 10, xHeight: 127, xTitlePad: 22.6, yMin: -0.01285, yMax: 0.01312,
  legend: sgdNames.map((n, i) => ({ name: n, rate: sgdRates[i], color: seriesColors[i] }))
});

// === bottom: RMSProp ===
makeChart('bottomChart', [
  lineSet(mergePoints(iterations, rms001, iterationsMid, rms001Mid), seriesColors[0], 3),
  lineSet(toPoints(iterations, rms0001), seriesColors[1], 2),
  lineSet(toPoints(rms00001Iter, rms00001), seriesColors[2], 1)
], {
  padTop: 43, xHeight: 103, xTitlePad: 0.6, yMin: -0.01296, yMax: 0.01306,
  legend: rmsNames.map((n, i) => ({ name: n, rate: rmsRates[i], color: seriesColors[i] }))
});
</script>
</body>
</html>
